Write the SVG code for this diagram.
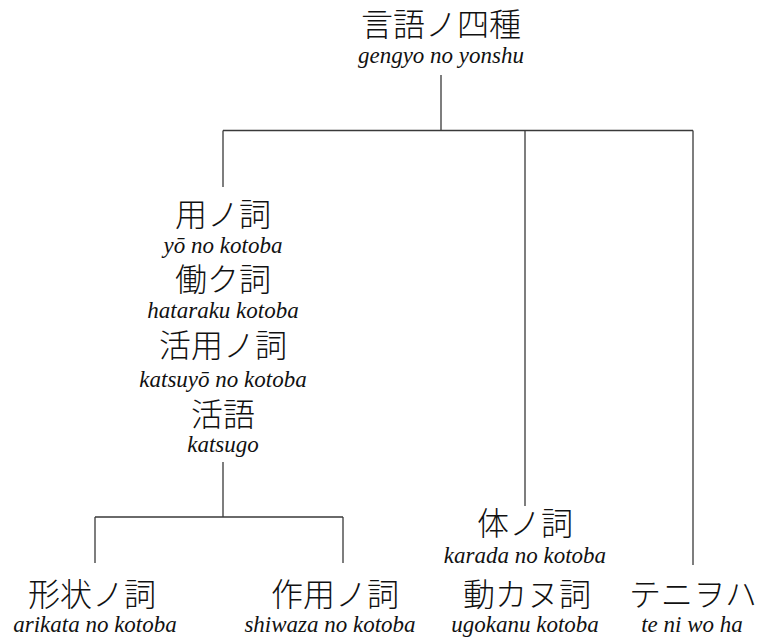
<svg xmlns="http://www.w3.org/2000/svg" width="761" height="640" viewBox="0 0 761 640">
<style>
.jp{font-family:"Noto Sans CJK JP","Noto Sans CJK SC",sans-serif;font-size:32px;font-weight:300;fill:#111;text-anchor:middle}
.ro{font-family:"Liberation Serif","DejaVu Serif",serif;font-style:italic;font-size:23px;fill:#111;text-anchor:middle}
.ln{stroke:#3a3a3a;stroke-width:1.3;fill:none}
</style>
<rect width="761" height="640" fill="#fff"/>
<g id="connectors">
<path class="ln" d="M441,75V130.5M223,130.5H693M223,130.5V187M525,130.5V506M693,130.5V565"/>
<path class="ln" d="M223,462V517M95,517H343M95,517V563M343,517V563"/>
</g>
<g id="root"><text class="jp" x="441" y="36">言語ノ四種</text><text class="ro" x="441" y="63">gengyo no yonshu</text></g>
<g id="yo"><text class="jp" x="223" y="226">用ノ詞</text><text class="ro" x="223" y="253">yō no kotoba</text>
<text class="jp" x="223" y="291">働ク詞</text><text class="ro" x="223" y="318">hataraku kotoba</text>
<text class="jp" x="223" y="357">活用ノ詞</text><text class="ro" x="223" y="387">katsuyō no kotoba</text>
<text class="jp" x="223" y="426">活語</text><text class="ro" x="223" y="452">katsugo</text></g>
<g id="arikata"><text class="jp" x="92" y="606">形状ノ詞</text><text class="ro" x="95" y="632">arikata no kotoba</text></g>
<g id="shiwaza"><text class="jp" x="335" y="606">作用ノ詞</text><text class="ro" x="330" y="632">shiwaza no kotoba</text></g>
<g id="tai"><text class="jp" x="525" y="535">体ノ詞</text><text class="ro" x="525" y="563">karada no kotoba</text>
<text class="jp" x="527" y="606">動カヌ詞</text><text class="ro" x="525" y="632">ugokanu kotoba</text></g>
<g id="teniwoha"><text class="jp" x="693" y="606">テニヲハ</text><text class="ro" x="692" y="632">te ni wo ha</text></g>
</svg>
